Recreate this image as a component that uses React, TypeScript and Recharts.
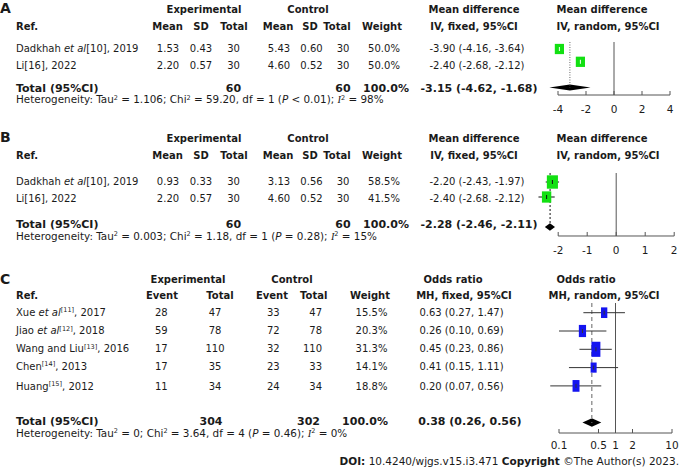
import React from 'react';
import { ScatterChart, Scatter, XAxis, YAxis, ErrorBar, ReferenceLine, ReferenceArea } from 'recharts';

// Panel A - mean difference, two studies
const authorsA = ['Dadkhah', 'Li'];
const etalA = [true, false];
const refsA = [10, 16];
const yearsA = [2019, 2022];
const expMeanA = [1.53, 2.2];
const expSdA = [0.43, 0.57];
const expNA = [30, 30];
const ctlMeanA = [5.43, 4.6];
const ctlSdA = [0.6, 0.52];
const ctlNA = [30, 30];
const weightA = [50.0, 50.0];
const mdA = [-3.9, -2.4];
const loA = [-4.16, -2.68];
const hiA = [-3.64, -2.12];
const ciSepA = [', ', ', '];
const totalNA = [60, 60];
const totalA = [-3.15, -4.62, -1.68];
const hetA = ['1.106', '59.20', '1', '< 0.01', '98'];
const ticksA = [-4, -2, 0, 2, 4];

// Panel B - mean difference, two studies
const authorsB = ['Dadkhah', 'Li'];
const etalB = [true, false];
const refsB = [10, 16];
const yearsB = [2019, 2022];
const expMeanB = [0.93, 2.2];
const expSdB = [0.33, 0.57];
const expNB = [30, 30];
const ctlMeanB = [3.13, 4.6];
const ctlSdB = [0.56, 0.52];
const ctlNB = [30, 30];
const weightB = [58.5, 41.5];
const mdB = [-2.2, -2.4];
const loB = [-2.43, -2.68];
const hiB = [-1.97, -2.12];
const ciSepB = [', ', '. '];
const totalNB = [60, 60];
const totalB = [-2.28, -2.46, -2.11];
const hetB = ['0.003', '1.18', '1', '= 0.28', '15'];
const ticksB = [-2, -1, 0, 1, 2];

// Panel C - odds ratio, five studies
const authorsC = ['Xue', 'Jiao', 'Wang and Liu', 'Chen', 'Huang'];
const etalC = [true, true, false, false, false];
const refsC = [11, 12, 13, 14, 15];
const yearsC = [2017, 2018, 2016, 2013, 2012];
const expEventC = [28, 59, 17, 17, 11];
const expTotalC = [47, 78, 110, 35, 34];
const ctlEventC = [33, 72, 32, 23, 24];
const ctlTotalC = [47, 78, 110, 33, 34];
const weightC = [15.5, 20.3, 31.3, 14.1, 18.8];
const orC = [0.63, 0.26, 0.45, 0.41, 0.2];
const loC = [0.27, 0.1, 0.23, 0.15, 0.07];
const hiC = [1.47, 0.69, 0.86, 1.11, 0.56];
const totalNC = [304, 302];
const totalC = [0.38, 0.26, 0.56];
const hetC = ['0', '3.64', '4', '= 0.46', '0'];
const ticksC = [0.1, 0.5, 1, 2, 10];

const supStyle: React.CSSProperties = { fontSize: 6.5, position: 'relative', top: -3.5, lineHeight: '6px' };

function Txt({ x, y, a = 'start', b = false, s = 10, children }: any) {
  const tx = a === 'middle' ? '-50%' : a === 'end' ? '-100%' : '0';
  return (
    <div
      style={{
        position: 'absolute',
        left: x,
        top: y,
        transform: `translate(${tx}, -50%)`,
        fontSize: s,
        fontWeight: b ? 700 : 400,
        lineHeight: `${s}px`,
        whiteSpace: 'nowrap',
      }}
    >
      {children}
    </div>
  );
}

const Study = ({ author, etal, refNo, year, sup }: any) => (
  <>
    {author}
    {etal && <> <i>et al</i></>}
    {sup ? <span style={supStyle}>[{refNo}]</span> : `[${refNo}]`}, {year}
  </>
);

const Het = ({ h }: { h: string[] }) => (
  <>
    Heterogeneity: Tau<span style={supStyle}>2</span> = {h[0]}; Chi<span style={supStyle}>2</span> = {h[1]}, df = {h[2]} (
    <i>P</i> {h[3]}); <i style={{ fontFamily: 'Liberation Serif' }}>I</i>
    <span style={supStyle}>2</span> = {h[4]}%
  </>
);

const ci = (e: number, l: number, h: number, sep = ', ') => `${e.toFixed(2)} (${l.toFixed(2)}${sep}${h.toFixed(2)})`;

type ForestProps = {
  est: number[];
  lo: number[];
  hi: number[];
  weight: number[];
  total: number[];
  ticks: number[];
  left: number;
  width: number;
  top: number;
  axisY: number;
  row0: number;
  step: number;
  xDomain: [number, number];
  log?: boolean;
  nullAt: number;
  fill: string;
  whisker: string;
  kw: number;
  kh: number;
  diamondH: number;
  refStroke: string;
  refDash: string;
  refWidth: number;
  tickDy: number;
};

function Forest(p: ForestProps) {
  const n = p.est.length;
  const rows = p.est.map((e, i) => ({ est: e, row: i, weight: p.weight[i], err: [e - p.lo[i], p.hi[i] - e] }));
  const yTop = (p.top - p.row0) / p.step;
  const yBot = (p.axisY - p.row0) / p.step;
  const totRow = n + 1;
  const dh = p.diamondH / 2 / p.step;
  const plotH = p.axisY - p.top;
  const pad = 12;

  const tick = (t: any) => (
    <g>
      <line x1={t.x} x2={t.x} y1={t.y} y2={t.y - 4} stroke="#555" />
      <text x={t.x} y={t.y + p.tickDy} textAnchor="middle" dominantBaseline="central" fontSize={10.5} fill="#1a1a1a" fontFamily="DejaVu Sans">
        {t.payload.value}
      </text>
    </g>
  );

  return (
    <div style={{ position: 'absolute', left: p.left, top: p.top }}>
      <ScatterChart width={p.width + pad} height={plotH + 24} margin={{ top: 0, right: pad, bottom: 0, left: 0 }}>
        <XAxis
          type="number"
          dataKey="est"
          domain={p.xDomain}
          scale={p.log ? 'log' : 'linear'}
          ticks={p.ticks}
          interval={0}
          axisLine={false}
          tickLine={false}
          tickSize={0}
          tickMargin={0}
          height={24}
          tick={tick}
        />
        <YAxis type="number" dataKey="row" domain={[yTop, yBot]} reversed hide />
        <ReferenceLine x={p.nullAt} stroke="#555" ifOverflow="visible" />
        <ReferenceLine
          segment={[{ x: p.total[0], y: yTop }, { x: p.total[0], y: totRow }]}
          stroke={p.refStroke}
          strokeDasharray={p.refDash}
          strokeWidth={p.refWidth}
          ifOverflow="visible"
        />
        <ReferenceLine
          segment={[{ x: p.ticks[0], y: yBot }, { x: p.ticks[p.ticks.length - 1], y: yBot }]}
          stroke="#555"
          ifOverflow="visible"
        />
        <Scatter
          data={rows}
          isAnimationActive={false}
          shape={(s: any) => {
            const w = p.kw * Math.sqrt(s.payload.weight);
            const h = p.kh * Math.sqrt(s.payload.weight);
            return <rect x={s.cx - w / 2} y={s.cy - h / 2} width={w} height={h} fill={p.fill} />;
          }}
        />
        <Scatter
          data={rows}
          isAnimationActive={false}
          shape={(s: any) => <line x1={s.cx} x2={s.cx} y1={s.cy - 2} y2={s.cy + 2} stroke={p.whisker} />}
        >
          <ErrorBar dataKey="err" direction="x" width={0} stroke={p.whisker} strokeWidth={1} />
        </Scatter>
        <ReferenceArea
          x1={p.total[1]}
          x2={p.total[2]}
          y1={totRow - dh}
          y2={totRow + dh}
          ifOverflow="visible"
          shape={(r: any) => {
            const cx = r.x + r.width / 2;
            const cy = r.y + r.height / 2;
            return (
              <polygon
                points={`${r.x},${cy} ${cx},${r.y} ${r.x + r.width},${cy} ${cx},${r.y + r.height}`}
                fill="#000"
              />
            );
          }}
        />
      </ScatterChart>
    </div>
  );
}

function MdTable(d: any) {
  const { y1, y2, rowsY, totY, hetY } = d;
  return (
    <>
      <Txt x={0} y={y1 - 2} b s={14}>{d.letter}</Txt>
      <Txt x={204} y={y1} a="middle" b>Experimental</Txt>
      <Txt x={308} y={y1} a="middle" b>Control</Txt>
      <Txt x={474} y={y1} a="middle" b>Mean difference</Txt>
      <Txt x={602} y={y1} a="middle" b>Mean difference</Txt>
      <Txt x={16} y={y2} b>Ref.</Txt>
      <Txt x={167.5} y={y2} a="middle" b>Mean</Txt>
      <Txt x={201} y={y2} a="middle" b>SD</Txt>
      <Txt x={234} y={y2} a="middle" b>Total</Txt>
      <Txt x={278} y={y2} a="middle" b>Mean</Txt>
      <Txt x={310} y={y2} a="middle" b>SD</Txt>
      <Txt x={337} y={y2} a="middle" b>Total</Txt>
      <Txt x={382} y={y2} a="middle" b>Weight</Txt>
      <Txt x={474} y={y2} a="middle" b>IV, fixed, 95%CI</Txt>
      <Txt x={608} y={y2} a="middle" b>IV, random, 95%CI</Txt>
      {d.authors.map((au: string, i: number) => (
        <React.Fragment key={i}>
          <Txt x={16} y={rowsY[i]}>
            <Study author={au} etal={d.etal[i]} refNo={d.refs[i]} year={d.years[i]} />
          </Txt>
          <Txt x={168} y={rowsY[i]} a="middle">{d.expMean[i].toFixed(2)}</Txt>
          <Txt x={201} y={rowsY[i]} a="middle">{d.expSd[i].toFixed(2)}</Txt>
          <Txt x={233.5} y={rowsY[i]} a="middle">{d.expN[i]}</Txt>
          <Txt x={279} y={rowsY[i]} a="middle">{d.ctlMean[i].toFixed(2)}</Txt>
          <Txt x={311.5} y={rowsY[i]} a="middle">{d.ctlSd[i].toFixed(2)}</Txt>
          <Txt x={343} y={rowsY[i]} a="middle">{d.ctlN[i]}</Txt>
          <Txt x={384} y={rowsY[i]} a="middle">{d.weight[i].toFixed(1)}%</Txt>
          <Txt x={477} y={rowsY[i]} a="middle">{ci(d.md[i], d.lo[i], d.hi[i], d.sep[i])}</Txt>
        </React.Fragment>
      ))}
      <Txt x={16} y={totY} b s={11}>Total (95%CI)</Txt>
      <Txt x={233.5} y={totY} a="middle" b s={11}>{d.totalN[0]}</Txt>
      <Txt x={343} y={totY} a="middle" b s={11}>{d.totalN[1]}</Txt>
      <Txt x={386} y={totY} a="middle" b s={11}>100.0%</Txt>
      <Txt x={479} y={totY} a="middle" b s={11}>{ci(d.total[0], d.total[1], d.total[2])}</Txt>
      <Txt x={16} y={hetY} s={10.4}><Het h={d.het} /></Txt>
    </>
  );
}

function OrTable() {
  const y1 = 280;
  const y2 = 296;
  const rowsY = [312.7, 331, 349.3, 366.7, 386.7];
  const totY = 420.5;
  const hetY = 433.5;
  return (
    <>
      <Txt x={0} y={y1 - 1} b s={14}>C</Txt>
      <Txt x={188} y={y1} a="middle" b>Experimental</Txt>
      <Txt x={292} y={y1} a="middle" b>Control</Txt>
      <Txt x={453} y={y1} a="middle" b>Odds ratio</Txt>
      <Txt x={586} y={y1} a="middle" b>Odds ratio</Txt>
      <Txt x={16} y={y2} b>Ref.</Txt>
      <Txt x={162} y={y2} a="middle" b>Event</Txt>
      <Txt x={220} y={y2} a="middle" b>Total</Txt>
      <Txt x={272} y={y2} a="middle" b>Event</Txt>
      <Txt x={313.7} y={y2} a="middle" b>Total</Txt>
      <Txt x={370} y={y2} a="middle" b>Weight</Txt>
      <Txt x={464} y={y2} a="middle" b>MH, fixed, 95%CI</Txt>
      <Txt x={604} y={y2} a="middle" b>MH, random, 95%CI</Txt>
      {authorsC.map((au, i) => (
        <React.Fragment key={i}>
          <Txt x={16} y={rowsY[i]}>
            <Study author={au} etal={etalC[i]} refNo={refsC[i]} year={yearsC[i]} sup />
          </Txt>
          <Txt x={161.3} y={rowsY[i]} a="middle">{expEventC[i]}</Txt>
          <Txt x={215} y={rowsY[i]} a="middle">{expTotalC[i]}</Txt>
          <Txt x={273.3} y={rowsY[i]} a="middle">{ctlEventC[i]}</Txt>
          <Txt x={322} y={rowsY[i]} a="end">{ctlTotalC[i]}</Txt>
          <Txt x={371.5} y={rowsY[i]} a="middle">{weightC[i].toFixed(1)}%</Txt>
          <Txt x={461.5} y={rowsY[i]} a="middle">{ci(orC[i], loC[i], hiC[i])}</Txt>
        </React.Fragment>
      ))}
      <Txt x={16} y={totY} b s={11}>Total (95%CI)</Txt>
      <Txt x={211} y={totY} a="middle" b s={11}>{totalNC[0]}</Txt>
      <Txt x={308.5} y={totY} a="middle" b s={11}>{totalNC[1]}</Txt>
      <Txt x={365} y={totY} a="middle" b s={11}>100.0%</Txt>
      <Txt x={470} y={totY} a="middle" b s={11}>{ci(totalC[0], totalC[1], totalC[2])}</Txt>
      <Txt x={16} y={hetY} s={10.4}><Het h={hetC} /></Txt>
    </>
  );
}

export default function App() {
  return (
    <div
      style={{
        position: 'absolute',
        left: 0,
        top: 0,
        width: 682,
        height: 471,
        background: '#fff',
        fontFamily: "'DejaVu Sans', Verdana, sans-serif",
        color: '#1a1a1a',
        overflow: 'hidden',
      }}
    >
      <MdTable
        letter="A" y1={10} y2={27} rowsY={[49.3, 65.5]} totY={87.7} hetY={100}
        authors={authorsA} etal={etalA} refs={refsA} years={yearsA}
        expMean={expMeanA} expSd={expSdA} expN={expNA} ctlMean={ctlMeanA} ctlSd={ctlSdA} ctlN={ctlNA}
        weight={weightA} md={mdA} lo={loA} hi={hiA} sep={ciSepA} totalN={totalNA} total={totalA} het={hetA}
      />
      <Forest
        est={mdA} lo={loA} hi={hiA} weight={weightA} total={totalA} ticks={ticksA}
        left={544} width={126} top={42} axisY={95} row0={49} step={12.8} xDomain={[-5, 4]} nullAt={0}
        fill="#12e012" whisker="#f0fff0" kw={1.3} kh={1.45} diamondH={6}
        refStroke="#666" refDash="1 1.5" refWidth={1} tickDy={14}
      />

      <MdTable
        letter="B" y1={139} y2={155.7} rowsY={[182.3, 199.3]} totY={224.3} hetY={236.7}
        authors={authorsB} etal={etalB} refs={refsB} years={yearsB}
        expMean={expMeanB} expSd={expSdB} expN={expNB} ctlMean={ctlMeanB} ctlSd={ctlSdB} ctlN={ctlNB}
        weight={weightB} md={mdB} lo={loB} hi={hiB} sep={ciSepB} totalN={totalNB} total={totalB} het={hetB}
      />
      <Forest
        est={mdB} lo={loB} hi={hiB} weight={weightB} total={totalB} ticks={ticksB}
        left={534.8} width={139.2} top={173} axisY={236} row0={182} step={15} xDomain={[-2.8, 2]} nullAt={0}
        fill="#12e012" whisker="#111" kw={1.45} kh={1.75} diamondH={7.7}
        refStroke="#111" refDash="2 2" refWidth={1} tickDy={14}
      />

      <OrTable />
      <Forest
        est={orC} lo={loC} hi={hiC} weight={weightC} total={totalC} ticks={ticksC}
        left={542} width={130} top={303} axisY={433} row0={312.7} step={18.3} xDomain={[0.05, 10]} log nullAt={1}
        fill="#1414f0" whisker="#333" kw={1.6} kh={2.7} diamondH={8.4}
        refStroke="#999" refDash="4 3" refWidth={1.5} tickDy={12}
      />

      <Txt x={679} y={461} a="end" s={10.5}>
        <b>DOI:</b> 10.4240/wjgs.v15.i3.471 <b>Copyright</b> ©The Author(s) 2023.
      </Txt>
    </div>
  );
}
